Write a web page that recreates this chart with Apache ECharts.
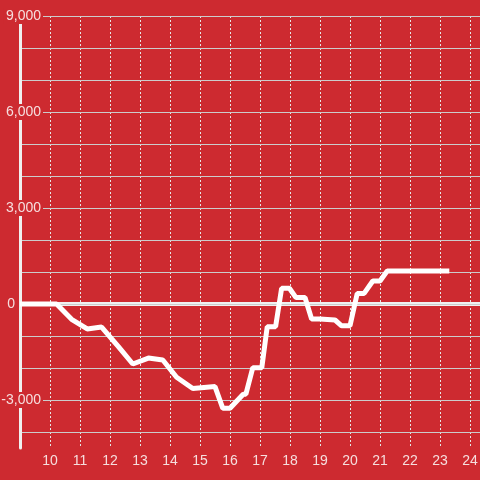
<!DOCTYPE html>
<html><head><meta charset="utf-8">
<script src="https://cdn.jsdelivr.net/npm/echarts@6/dist/echarts.min.js"></script>
<style>html,body{margin:0;padding:0;background:#cd2a30}#c{width:480px;height:480px}</style>
</head><body><div id="c"></div>
<script>
const hours = [9, 10.22, 10.72, 11.24, 11.72, 12.28, 12.76, 13.28, 13.76, 14.22, 14.76, 15.5, 15.76, 16.0, 16.44, 16.53, 16.76, 17.06, 17.24, 17.52, 17.72, 17.98, 18.2, 18.5, 18.72, 19.0, 19.5, 19.72, 20.0, 20.24, 20.47, 20.76, 21.0, 21.24, 23.31];
const values = [0, 0, -480, -780, -720, -1330, -1875, -1690, -1750, -2290, -2640, -2580, -3260, -3260, -2820, -2820, -1990, -1990, -710, -710, 490, 490, 200, 200, -470, -470, -500, -680, -680, 330, 330, 720, 720, 1030, 1030];
const yLabels = [-3000, 0, 3000, 6000, 9000];
const xTicks = [10, 11, 12, 13, 14, 15, 16, 17, 18, 19, 20, 21, 22, 23, 24];

const BG = '#cd2a30';
const chart = echarts.init(document.getElementById('c'), null, {renderer: 'canvas'});
chart.setOption({
  backgroundColor: BG,
  animation: false,
  grid: {left: 20, right: 0, top: 16, bottom: 32, containLabel: false, outerBoundsMode: 'none'},
  xAxis: {
    type: 'value', min: 9, max: 24.333, interval: 1,
    axisLine: {show: false}, axisTick: {show: false},
    splitLine: {show: true, lineStyle: {color: '#e6e6e6', type: [2, 2], width: 1}},
    axisLabel: {
      color: '#f6dede', fontSize: 14, fontFamily: 'Liberation Sans, Arial', margin: 6,
      formatter: v => xTicks.includes(v) ? String(v) : ''
    }
  },
  yAxis: {
    type: 'value', min: -4500, max: 9000, interval: 500,
    axisLine: {show: true, lineStyle: {color: '#f0f0f0', width: 3}},
    axisTick: {show: false},
    splitLine: {show: true, lineStyle: {color: ['rgba(0,0,0,0)', '#cccccc'], width: 1}},
    axisLabel: {
      margin: -23, align: 'right', color: '#f6dede', fontSize: 14, fontFamily: 'Liberation Sans, Arial',
      formatter: v => {
        if (!yLabels.includes(v)) return '';
        if (v === 0) return '{z|0}{sp|}';
        return '{t|' + v.toLocaleString('en-US') + '}';
      },
      rich: {
        t: {backgroundColor: BG, padding: [1, 2, 1, 2], lineHeight: 16, fontSize: 14, color: '#f6dede', fontFamily: 'Liberation Sans, Arial'},
        z: {fontSize: 14, color: '#f6dede', fontFamily: 'Liberation Sans, Arial'},
        sp: {width: 28}
      }
    },
    z: 3
  },
  series: [{
    type: 'line',
    data: hours.map((h, i) => [h, values[i]]),
    symbol: 'none',
    lineStyle: {color: '#ffffff', width: 5},
    z: 4,
    markLine: {
      silent: true, symbol: 'none', label: {show: false},
      lineStyle: {color: '#f0f0f0', width: 4, type: 'solid'},
      data: [{yAxis: 0}],
      z: 2
    }
  }]
});
</script></body></html>
